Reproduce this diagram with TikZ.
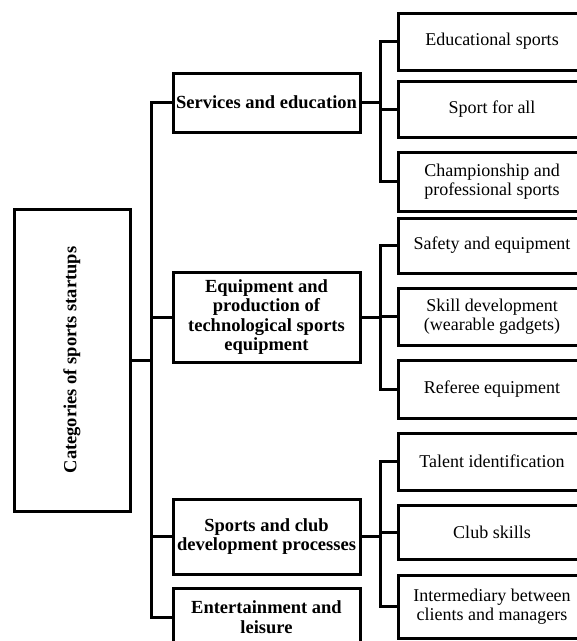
\documentclass[tikz,border=0pt]{standalone}
\usepackage{fontspec}
\setmainfont{Liberation Serif}
\usepackage{tikz}
\usetikzlibrary{positioning}
\tikzstyle{link} = [line width=3pt, line cap=rect]
\tikzstyle{rootbox} = [draw, line width=3pt, rectangle, minimum width=116, minimum height=302, align=center, font=\fontsize{18.5}{20}\selectfont\bfseries]
\tikzstyle{midbox} = [draw, line width=3pt, rectangle, minimum width=187, align=center, inner sep=1pt, font=\fontsize{18.5}{19.5}\selectfont\bfseries]
\tikzstyle{leafbox} = [draw, line width=3pt, rectangle, minimum width=188, align=center, inner sep=1pt, font=\fontsize{18}{19}\selectfont]

\begin{document}
\begin{tikzpicture}[x=1pt, y=-1pt]
		\clip (0,0) rectangle (577,641);
		\coordinate (root) at (72,360);
		\coordinate (sp) at (151,360);
		\coordinate (rsp) at (380,360);
		\coordinate (serv) at (266.5,102.5);
		\coordinate (equip) at (266.5,317);
		\coordinate (club) at (266.5,536.5);
		\coordinate (ent) at (266.5,617);
		% Root
		\node[rootbox, name=root] at (root) {\rotatebox{90}{Categories of sports startups}};
		% Categories
		\node[midbox, name=serv, minimum height=59] at (serv) {Services and education};
		\node[midbox, name=equip, minimum height=90] at (equip) {Equipment and\\production of\\technological sports\\equipment};
		\node[midbox, name=club, minimum height=75] at (club) {Sports and club\\development processes};
		\node[midbox, name=ent, minimum height=58] at (ent) {Entertainment and\\leisure};
		% Services and education
		\node[leafbox, name=edu, minimum height=57] at (492,41.5) {Educational sports};
		\node[leafbox, name=all, minimum height=56] at (492,109) {Sport for all};
		\node[leafbox, name=champ, minimum height=59] at (492,181.5) {Championship and\\professional sports};
		% Equipment
		\node[leafbox, name=safe, minimum height=55] at (492,245.5) {Safety and equipment};
		\node[leafbox, name=skill, minimum height=57] at (492,316.5) {Skill development\\(wearable gadgets)};
		\node[leafbox, name=referee, minimum height=58] at (492,389) {Referee equipment};
		% Sports and club
		\node[leafbox, name=talent, minimum height=57] at (492,461.5) {Talent identification};
		\node[leafbox, name=clubsk, minimum height=54] at (492,532) {Club skills};
		\node[leafbox, name=inter, minimum height=63] at (492,606.5) {Intermediary between\\clients and managers};
		% Links
		\draw [link] (root.east)--(root.east -| sp);
		\draw [link] (serv.west -| sp)--(ent.west -| sp);
		\foreach \m in {serv,equip,club,ent}
			\draw [link] (\m.west -| sp)--(\m.west);
		\draw [link] (serv.east)--(serv.east -| rsp);
		\draw [link] (equip.east)--(equip.east -| rsp);
		\draw [link] (club.east)--(club.east -| rsp);
		\draw [link] (edu.west -| rsp)--(champ.west -| rsp);
		\draw [link] (safe.west -| rsp)--(referee.west -| rsp);
		\draw [link] (talent.west -| rsp)--(inter.west -| rsp);
		\foreach \l in {edu,all,champ,safe,skill,referee,talent,clubsk,inter}
			\draw [link] (\l.west -| rsp)--(\l.west);
\end{tikzpicture}
\end{document}
